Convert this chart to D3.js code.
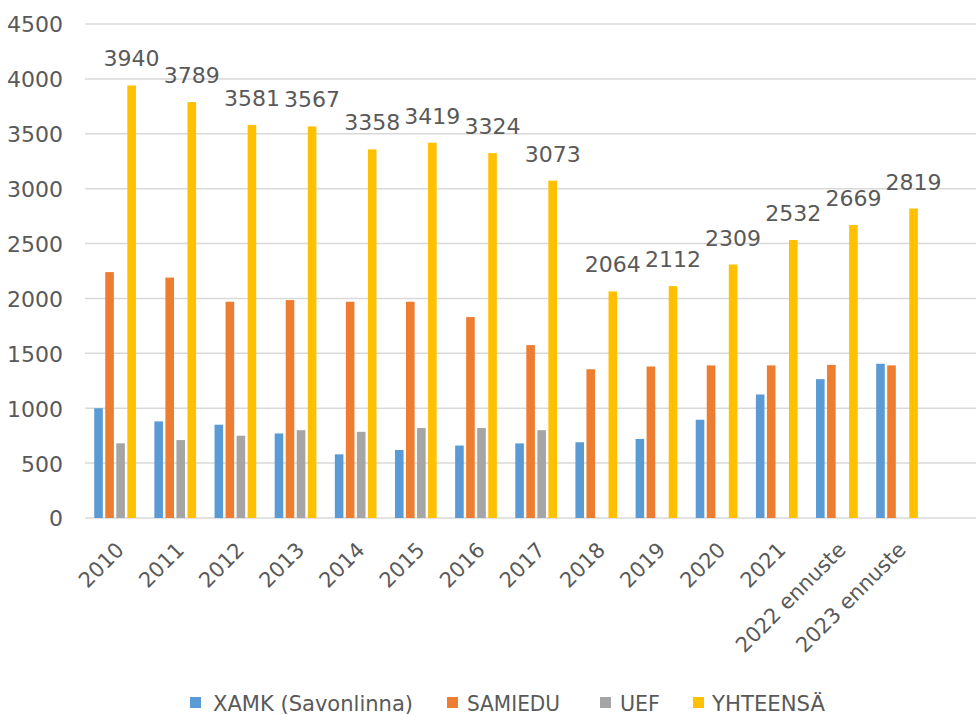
<!DOCTYPE html>
<html>
<head>
<meta charset="utf-8">
<script src="https://cdn.jsdelivr.net/npm/d3@7"></script>
<style>
  html, body { margin: 0; padding: 0; background: #fff; }
  svg { display: block; }
</style>
</head>
<body>
<svg id="chart" width="976" height="715"></svg>
<script>
const categories = ["2010","2011","2012","2013","2014","2015","2016","2017","2018","2019","2020","2021","2022 ennuste","2023 ennuste"];
const seriesNames = ["XAMK (Savonlinna)", "SAMIEDU", "UEF", "YHTEENSÄ"];
const xamk     = [1000, 880, 850, 770, 580, 620, 660, 680, 690, 720, 895, 1125, 1265, 1405];
const samiedu  = [2240, 2190, 1970, 1985, 1970, 1970, 1830, 1575, 1355, 1380, 1390, 1390, 1395, 1390];
const uef      = [680, 710, 750, 800, 785, 820, 820, 800, null, null, null, null, null, null];
const yhteensa = [3940, 3789, 3581, 3567, 3358, 3419, 3324, 3073, 2064, 2112, 2309, 2532, 2669, 2819];
const yTicks   = [0, 500, 1000, 1500, 2000, 2500, 3000, 3500, 4000, 4500];
const colors   = ["#5b9bd5", "#ed7d31", "#a5a5a5", "#ffc000"];

const seriesValues = [xamk, samiedu, uef, yhteensa];
const svg = d3.select("#chart");
const textColor = "#595959";
const numFont = "DejaVu Sans, sans-serif";

const plotLeft = 85, plotRight = 976, step = 60.15;
const y = d3.scaleLinear().domain([0, 4500]).range([518, 24]);
const x0 = d3.scaleBand().domain(categories)
  .range([plotLeft, plotLeft + step * categories.length])
  .paddingInner(0.27).paddingOuter(0.135);
const x1 = d3.scaleBand().domain(d3.range(4)).range([0, x0.bandwidth()])
  .paddingInner(0.22).paddingOuter(0.1);

// gridlines
svg.append("g").selectAll("line").data(yTicks).join("line")
  .attr("x1", plotLeft).attr("x2", plotRight)
  .attr("y1", d => y(d)).attr("y2", d => y(d))
  .attr("stroke", "#d9d9d9").attr("stroke-width", 1.5);

// y axis labels
const yAxis = d3.axisLeft(y).tickValues(yTicks).tickFormat(d3.format("d")).tickSize(0).tickPadding(0);
const yg = svg.append("g").attr("transform", "translate(63,0)").call(yAxis);
yg.select(".domain").remove();
yg.selectAll("text").attr("font-family", numFont).attr("font-size", 22)
  .attr("fill", textColor).attr("dy", "0.36em");

// bars
const groups = svg.append("g").selectAll("g").data(categories).join("g")
  .attr("transform", d => `translate(${x0(d)},0)`);
groups.selectAll("rect")
  .data((c, i) => seriesValues.map((s, k) => ({k, v: s[i]})).filter(d => d.v != null))
  .join("rect")
  .attr("x", d => x1(d.k)).attr("width", x1.bandwidth())
  .attr("y", d => y(d.v)).attr("height", d => y(0) - y(d.v))
  .attr("fill", d => colors[d.k]);

// data labels for total
svg.append("g").selectAll("text").data(categories).join("text")
  .attr("x", (c) => x0(c) + x1(3) + x1.bandwidth() / 2)
  .attr("y", (c, i) => y(yhteensa[i]) - 19)
  .attr("text-anchor", "middle")
  .attr("font-family", numFont).attr("font-size", 22).attr("fill", textColor)
  .text((c, i) => yhteensa[i]);

// x axis labels
const xAxis = d3.axisBottom(x0).tickSize(0).tickPadding(0);
const xg = svg.append("g").attr("transform", "translate(0,518)").call(xAxis);
xg.select(".domain").remove();
xg.selectAll("text")
  .attr("font-family", numFont).attr("font-size", 21).attr("fill", textColor)
  .attr("text-anchor", "end")
  .attr("dy", "0.35em")
  .attr("transform", "translate(5,28) rotate(-45)");

// legend
const legendItems = [
  {name: seriesNames[0], sx: 190, tx: 213, w: 200},
  {name: seriesNames[1], sx: 447, tx: 467, w: 93},
  {name: seriesNames[2], sx: 600, tx: 620, w: 40},
  {name: seriesNames[3], sx: 693, tx: 712, w: 113}
];
const lg = svg.append("g");
lg.selectAll("rect").data(legendItems).join("rect")
  .attr("x", d => d.sx).attr("y", 697).attr("width", 11).attr("height", 11)
  .attr("fill", (d, i) => colors[i]);
lg.selectAll("text").data(legendItems).join("text")
  .attr("x", d => d.tx).attr("y", 711)
  .attr("font-family", "DejaVu Sans, sans-serif")
  .attr("font-size", 22).attr("fill", textColor)
  .attr("textLength", d => d.w).attr("lengthAdjust", "spacingAndGlyphs")
  .text(d => d.name);
</script>
</body>
</html>
